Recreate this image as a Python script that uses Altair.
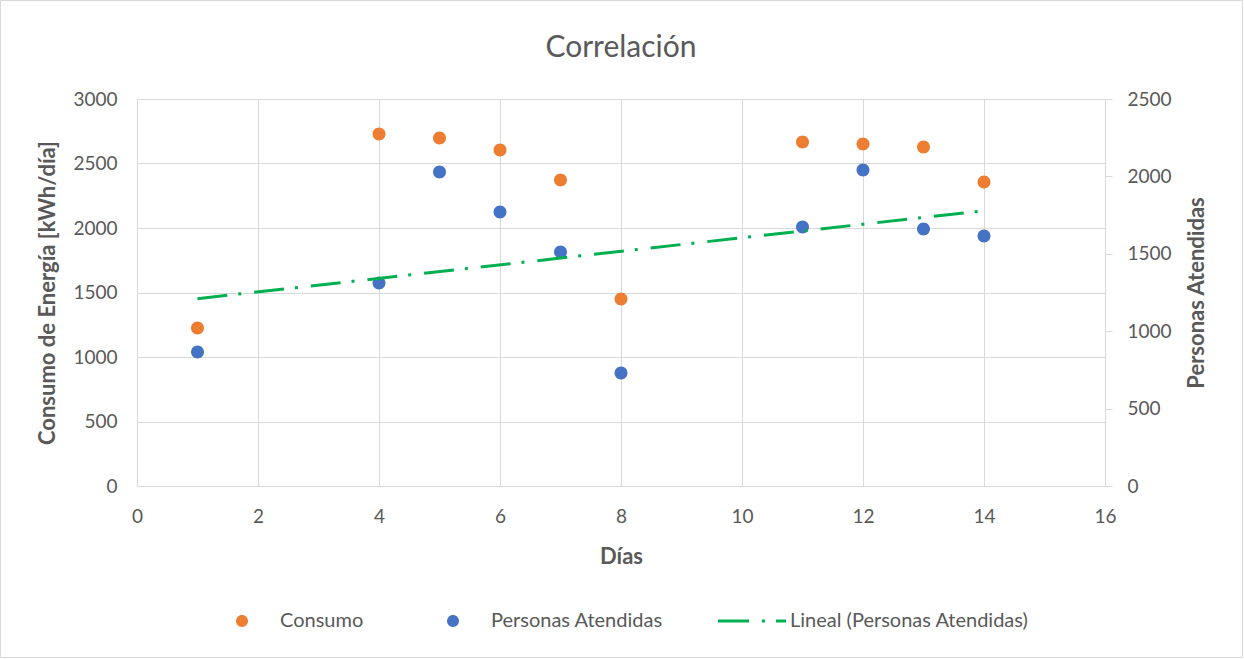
import altair as alt
import pandas as pd

# Daily readings
dias = [1, 4, 5, 6, 7, 8, 11, 12, 13, 14]
consumo = [1225, 2729, 2698, 2605, 2372, 1450, 2667, 2651, 2628, 2357]
personas = [866, 1311, 2028, 1770, 1512, 730, 1673, 2041, 1660, 1615]

series = ["Consumo", "Personas Atendidas", "Lineal (Personas Atendidas)"]
colors = ["#ED7D31", "#4472C4", "#00B050"]

# Legend / point symbols (unit-square SVG paths): small dot, dash-dot segment
DOT = "M-0.176,0A0.176,0.176,0,1,0,0.176,0A0.176,0.176,0,1,0,-0.176,0Z"
DASHDOT = ("M-1,-0.044H-0.088V0.044H-1Z "
           "M0.29,-0.044H0.38V0.044H0.29Z "
           "M0.706,-0.044H1V0.044H0.706Z")
shapes = [DOT, DOT, DASHDOT]

TEXT = "#595959"
GRID = "#D9D9D9"
FONT = "Lato"

df = pd.DataFrame({"Dia": dias, "Consumo": consumo, "Personas": personas})

color_scale = alt.Scale(domain=series, range=colors)
shape_scale = alt.Scale(domain=series, range=shapes)

legend = alt.Legend(
    title=None, orient="none", legendX=71, legendY=488, direction="horizontal",
    symbolSize=4624, symbolStrokeWidth=0, labelOffset=4, columnPadding=55,
    labelFont=FONT, labelFontSize=20, labelColor=TEXT, labelLimit=400, padding=0,
)

x_enc = alt.X(
    "Dia:Q", title="Días",
    scale=alt.Scale(domain=[0, 16], nice=False),
    axis=alt.Axis(values=list(range(0, 17, 2)), grid=True, gridColor=GRID,
                  domain=False, ticks=False, tickSize=0, labelPadding=21,
                  labelFlush=False,
                  labelFont=FONT, labelFontSize=19, labelColor=TEXT,
                  titleFont=FONT, titleFontSize=22, titleFontWeight="bold",
                  titleColor=TEXT, titlePadding=20),
)

base = alt.Chart(df)

consumo_pts = base.transform_calculate(serie="'Consumo'").mark_point(
    filled=True, opacity=1, size=5455
).encode(
    x=x_enc,
    y=alt.Y("Consumo:Q", title="Consumo de Energía [kWh/día]",
            scale=alt.Scale(domain=[0, 3000], nice=False),
            axis=alt.Axis(orient="left", values=list(range(0, 3001, 500)),
                          format="d", grid=True, gridColor=GRID, domain=False,
                          ticks=False, tickSize=0, labelPadding=20,
                          labelFont=FONT, labelFontSize=19, labelColor=TEXT,
                          titleFont=FONT, titleFontSize=22, titleFontWeight="bold",
                          titleColor=TEXT, titlePadding=13)),
    color=alt.Color("serie:N", scale=color_scale, legend=legend),
    shape=alt.Shape("serie:N", scale=shape_scale, legend=legend),
)

right_axis = alt.Axis(orient="right", values=list(range(0, 2501, 500)),
                      format="d", grid=False, domain=False, ticks=True, tickSize=7,
                      tickColor=GRID, labelPadding=15,
                      labelFont=FONT, labelFontSize=19, labelColor=TEXT,
                      titleFont=FONT, titleFontSize=22, titleFontWeight="bold",
                      titleColor=TEXT, titleAngle=270, titlePadding=37)

personas_pts = base.transform_calculate(serie="'Personas Atendidas'").mark_point(
    filled=True, opacity=1, size=5455
).encode(
    x=x_enc,
    y=alt.Y("Personas:Q", title="Personas Atendidas",
            scale=alt.Scale(domain=[0, 2500], nice=False), axis=right_axis),
    color=alt.Color("serie:N", scale=color_scale, legend=legend),
    shape=alt.Shape("serie:N", scale=shape_scale, legend=legend),
)

# Linear trend of attended people
trend = base.transform_regression(
    "Dia", "Personas", extent=[1, 14]
).transform_calculate(
    serie="'Lineal (Personas Atendidas)'"
).mark_line(strokeWidth=3, strokeDash=[30, 11, 3, 13], strokeCap="butt").encode(
    x=x_enc,
    y=alt.Y("Personas:Q", title="Personas Atendidas",
            scale=alt.Scale(domain=[0, 2500], nice=False), axis=right_axis),
    color=alt.Color("serie:N", scale=color_scale, legend=None),
)

# Light outer frame around the whole figure
frame = alt.Chart(alt.Data(values=[{}])).mark_rect(
    fillOpacity=0, stroke=GRID, strokeWidth=1
).encode(
    x=alt.value(-136.5), x2=alt.value(1105.5),
    y=alt.value(-98.5), y2=alt.value(558.5),
)

right_layer = alt.layer(personas_pts, trend)

chart = alt.layer(frame, consumo_pts, right_layer).resolve_scale(
    y="independent"
).properties(
    width=968, height=387,
    title=alt.TitleParams("Correlación", font=FONT, fontSize=30,
                          fontWeight="normal", color=TEXT, anchor="middle",
                          frame="group", baseline="alphabetic", offset=-87),
    padding=0,
    background="white",
).configure_view(stroke=GRID)

chart.save("out.html", embed_options={"renderer": "svg", "actions": False})
